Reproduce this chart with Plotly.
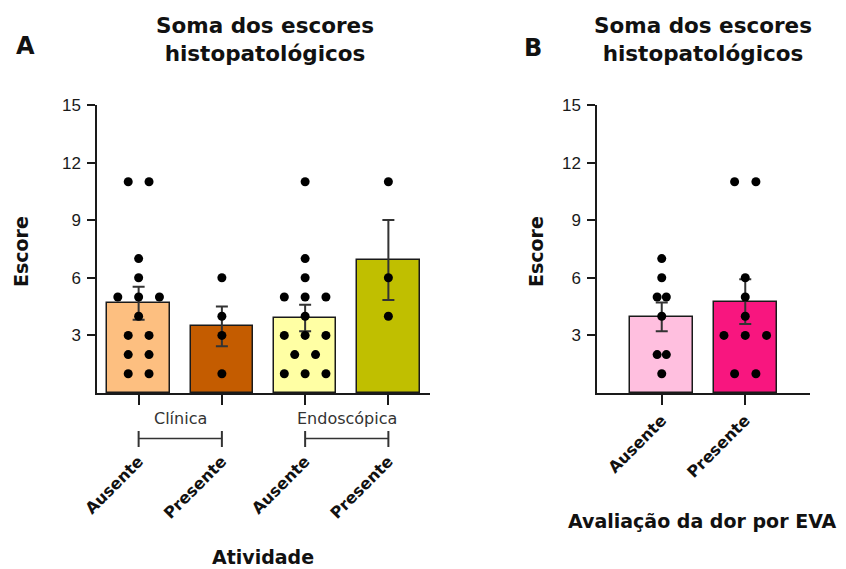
import plotly.graph_objects as go
from collections import Counter

# ---------------- data ----------------
a_tick_labels = ["Ausente", "Presente", "Ausente", "Presente"]
a_group_labels = ["Clínica", "Endoscópica"]
a_points = [
    [11, 11, 7, 6, 5, 5, 5, 4, 3, 3, 2, 2, 1, 1],
    [6, 4, 3, 1],
    [11, 7, 6, 5, 5, 5, 4, 3, 3, 3, 2, 2, 1, 1, 1],
    [11, 6, 4],
]
a_means = [4.68, 3.47, 3.9, 6.93]
a_sem = [0.86, 1.04, 0.69, 2.08]

b_tick_labels = ["Ausente", "Presente"]
b_points = [
    [7, 6, 5, 5, 4, 2, 2, 1],
    [11, 11, 6, 5, 4, 3, 3, 3, 1, 1],
]
b_means = [3.97, 4.76]
b_sem = [0.75, 1.16]

y_ticks = [3, 6, 9, 12, 15]
title_text = "Soma dos escores<br>histopatológicos"

# ---------------- styles ----------------
a_colors = ["#FDBF80", "#C45C00", "#FFFFA4", "#C0BF00"]
b_colors = ["#FFBFDF", "#F8167F"]
a_spread = [0.25, 0.25, 0.25, 0.25]
b_spread = [0.11, 0.255]

OFF = 8  # page body margin
W, H = 846 - OFF, 569 - OFF
def px_x(p):
    return (p - OFF) / W
def px_y(p):
    return 1 - (p - OFF) / H

BOLD = dict(family="DejaVu Sans", weight=700, color="#111111")
REG = dict(family="DejaVu Sans", color="#333333")
TICKF = dict(family="Liberation Sans, Arial", size=17, color="#1a1a1a")


def swarm(vals, center, spacing):
    cnt = Counter(vals)
    seen = Counter()
    xs = []
    for v in vals:
        n = cnt[v]
        i = seen[v]
        seen[v] += 1
        xs.append(center + (i - (n - 1) / 2) * spacing)
    return xs


fig = go.Figure()

def add_panel(points, means, sems, colors, spreads, xa, ya):
    xs_idx = list(range(len(means)))
    fig.add_trace(go.Bar(
        x=xs_idx, y=means, width=0.75,
        marker=dict(color=colors, line=dict(color="#1a1a1a", width=1.5)),
        error_y=dict(type="data", array=sems, visible=True, color="#333333",
                     thickness=2, width=6),
        xaxis=xa, yaxis=ya, showlegend=False, hoverinfo="skip",
    ))
    for i, vals in enumerate(points):
        fig.add_trace(go.Scatter(
            x=swarm(vals, i, spreads[i]), y=vals, mode="markers",
            marker=dict(color="black", size=9),
            xaxis=xa, yaxis=ya, showlegend=False, hoverinfo="skip",
        ))

add_panel(a_points, a_means, a_sem, a_colors, a_spread, "x", "y")
add_panel(b_points, b_means, b_sem, b_colors, b_spread, "x2", "y2")

ydom = [px_y(393), px_y(105)]
yax_common = dict(
    range=[0, 15], tickvals=y_ticks, ticks="outside", ticklen=8, tickwidth=1.5,
    tickcolor="#1a1a1a", showline=True, linecolor="#1a1a1a", linewidth=1.5,
    showgrid=False, zeroline=False, tickfont=TICKF, ticklabelstandoff=3,
    domain=ydom,
)
xax_common = dict(
    ticks="outside", ticklen=10, tickwidth=1.5, tickcolor="#1a1a1a",
    showline=True, linecolor="#1a1a1a", linewidth=1.5, showgrid=False,
    zeroline=False, tickangle=-45,
    tickfont=dict(family="DejaVu Sans", weight=700, size=16, color="#111111"),
)

fig.update_layout(
    width=W, height=H,
    margin=dict(l=0, r=0, t=0, b=0, autoexpand=False),
    paper_bgcolor="white", plot_bgcolor="white",
    bargap=0,
    xaxis=dict(domain=[px_x(97), px_x(430)], range=[-0.5, 3.5],
               tickvals=list(range(4)), ticktext=a_tick_labels,
               anchor="y", ticklabelstandoff=41, **xax_common),
    yaxis=dict(anchor="x", **yax_common),
    xaxis2=dict(domain=[px_x(597), px_x(810)], range=[-0.775, 1.775],
                tickvals=list(range(2)), ticktext=b_tick_labels,
                anchor="y2", **xax_common),
    yaxis2=dict(anchor="x2", **yax_common),
)

ann = []
# titles
for cx in (264.5, 703):
    ann.append(dict(text=title_text, x=px_x(cx), y=px_y(39), xref="paper", yref="paper",
                    xanchor="center", yanchor="middle", showarrow=False,
                    font=dict(size=21.5, **BOLD)))
# panel letters
ann.append(dict(text="A", x=px_x(25), y=px_y(46), xref="paper", yref="paper",
                xanchor="center", yanchor="middle", showarrow=False,
                font=dict(size=24, **BOLD)))
ann.append(dict(text="B", x=px_x(533), y=px_y(48), xref="paper", yref="paper",
                xanchor="center", yanchor="middle", showarrow=False,
                font=dict(size=24, **BOLD)))
# y titles
for cx in (21, 536):
    ann.append(dict(text="Escore", x=px_x(cx), y=px_y(252), xref="paper", yref="paper",
                    xanchor="center", yanchor="middle", textangle=-90, showarrow=False,
                    font=dict(size=19, **BOLD)))
# x titles
ann.append(dict(text="Atividade", x=px_x(262.5), y=px_y(557), xref="paper", yref="paper",
                xanchor="center", yanchor="middle", showarrow=False,
                font=dict(size=19, **BOLD)))
ann.append(dict(text="Avaliação da dor por EVA", x=px_x(702), y=px_y(521), xref="paper",
                yref="paper", xanchor="center", yanchor="middle", showarrow=False,
                font=dict(size=19, **BOLD)))
# group labels
for gi, g in enumerate(a_group_labels):
    ann.append(dict(text=g, x=2 * gi + 0.5, y=px_y(418), xref="x", yref="paper",
                    xanchor="center", yanchor="middle", showarrow=False,
                    font=dict(size=16, **REG)))
fig.update_layout(annotations=ann)

shapes = []
for gi in range(len(a_group_labels)):
    x0, x1 = 2 * gi, 2 * gi + 1
    yb = px_y(438.5)
    shapes.append(dict(type="line", xref="x", yref="paper", x0=x0, x1=x1, y0=yb, y1=yb,
                       line=dict(color="#333333", width=1.5)))
    for xe in (x0, x1):
        shapes.append(dict(type="line", xref="x", yref="paper", x0=xe, x1=xe,
                           y0=px_y(431), y1=px_y(447), line=dict(color="#333333", width=2)))
fig.update_layout(shapes=shapes)

fig.write_html("out.html")
